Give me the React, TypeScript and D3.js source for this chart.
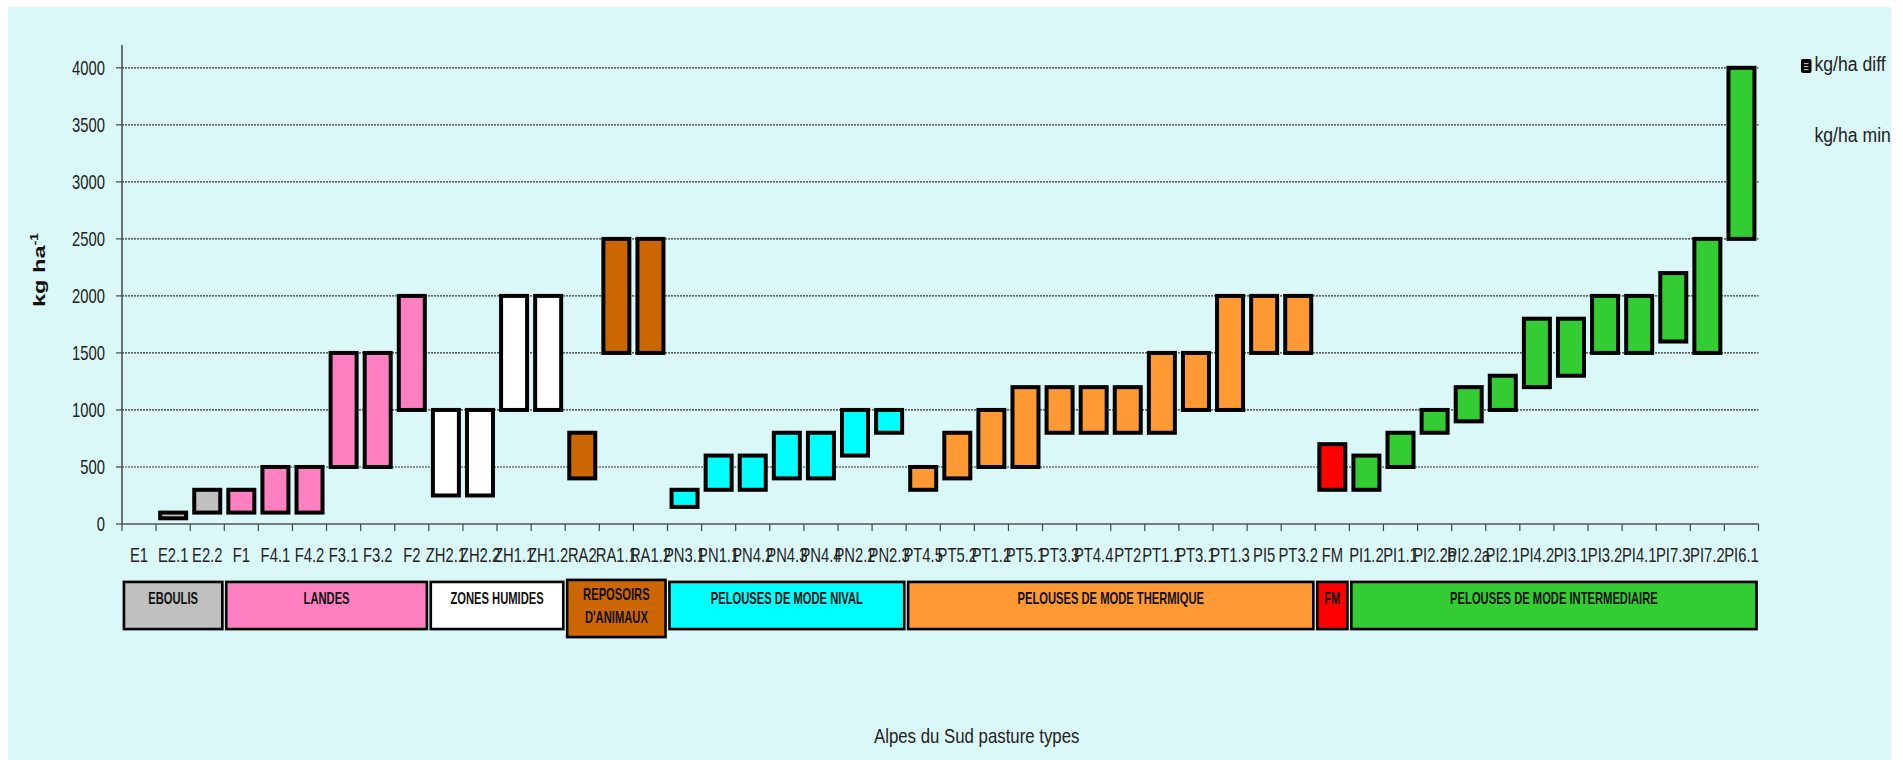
import React from "react";
import * as d3 from "d3";

const categories = [
  "E1", "E2.1", "E2.2", "F1", "F4.1", "F4.2", "F3.1", "F3.2", "F2",
  "ZH2.1", "ZH2.2", "ZH1.1", "ZH1.2", "RA2", "RA1.1", "RA1.2",
  "PN3.1", "PN1.1", "PN4.2", "PN4.3", "PN4.4", "PN2.2", "PN2.3",
  "PT4.5", "PT5.2", "PT1.2", "PT5.1", "PT3.3", "PT4.4", "PT2", "PT1.1", "PT3.1", "PT1.3", "PI5", "PT3.2",
  "FM",
  "PI1.2", "PI1.1", "PI2.2b", "PI2.2a", "PI2.1", "PI4.2", "PI3.1", "PI3.2", "PI4.1", "PI7.3", "PI7.2", "PI6.1",
];

// series "kg/ha min" (invisible base)
const minValues = [
  0, 50, 100, 100, 100, 100, 500, 500, 1000,
  250, 250, 1000, 1000, 400, 1500, 1500,
  150, 300, 300, 400, 400, 600, 800,
  300, 400, 500, 500, 800, 800, 800, 800, 1000, 1000, 1500, 1500,
  300,
  300, 500, 800, 900, 1000, 1200, 1300, 1500, 1500, 1600, 1500, 2500,
];

// series "kg/ha diff" (visible floating bar)
const diffValues = [
  0, 50, 200, 200, 400, 400, 1000, 1000, 1000,
  750, 750, 1000, 1000, 400, 1000, 1000,
  150, 300, 300, 400, 400, 400, 200,
  200, 400, 500, 700, 400, 400, 400, 700, 500, 1000, 500, 500,
  400,
  300, 300, 200, 300, 300, 600, 500, 500, 500, 600, 1000, 1500,
];

const groupLabels = [
  ["EBOULIS"],
  ["LANDES"],
  ["ZONES HUMIDES"],
  ["REPOSOIRS", "D'ANIMAUX"],
  ["PELOUSES DE MODE NIVAL"],
  ["PELOUSES DE MODE THERMIQUE"],
  ["FM"],
  ["PELOUSES DE MODE INTERMEDIAIRE"],
];
const groupFirst = [0, 3, 9, 13, 16, 23, 35, 36];
const groupLast = [2, 8, 12, 15, 22, 34, 35, 47];
const groupColors = ["#c0c0c0", "#ff80c0", "#ffffff", "#cc6600", "#00ffff", "#ff9933", "#ff0000", "#33cc33"];

const yTicks = [0, 500, 1000, 1500, 2000, 2500, 3000, 3500, 4000];
const legendLabels = ["kg/ha diff", "kg/ha min"];
const yTitle = "kg ha";
const yTitleSup = "-1";
const xTitle = "Alpes du Sud pasture types";

const FONT = "'Liberation Sans', Arial, sans-serif";

function colorOf(i: number): string {
  for (let g = 0; g < groupFirst.length; g++) {
    if (i >= groupFirst[g] && i <= groupLast[g]) return groupColors[g];
  }
  return "#cccccc";
}

export default function App() {
  const W = 1903;
  const H = 760;
  const x = d3.scaleBand<string>().domain(categories).range([122, 1758.5]).padding(0);
  const y = d3.scaleLinear().domain([0, 4200]).range([524, 45]);
  const bw = x.bandwidth();
  const sw = 4;
  const barW = bw * 0.88 - sw;

  return (
    <svg
      width={W}
      height={H}
      style={{ position: "absolute", left: 0, top: 0, display: "block" }}
      fontFamily={FONT}
    >
      <rect x={0} y={0} width={W} height={H} fill="#ffffff" />
      <rect x={8} y={7} width={1883} height={H - 7} fill="#dbf8f8" />

      {/* gridlines */}
      {yTicks.filter((t) => t > 0).map((t) => (
        <line
          key={"g" + t}
          x1={122}
          x2={1758.5}
          y1={y(t)}
          y2={y(t)}
          stroke="#333"
          strokeWidth={1.2}
          strokeDasharray="2 1"
        />
      ))}

      {/* y ticks and labels */}
      {yTicks.map((t) => (
        <g key={"yt" + t}>
          <line x1={116} x2={122} y1={y(t)} y2={y(t)} stroke="#444" strokeWidth={1.2} />
          <text
            transform={`translate(105,${y(t) + 7}) scale(0.74,1)`}
            textAnchor="end"
            fontSize={20}
            fill="#222"
          >
            {t}
          </text>
        </g>
      ))}

      {/* y axis */}
      <line x1={122} x2={122} y1={45} y2={524} stroke="#444" strokeWidth={1.5} />

      {/* bars */}
      {categories.map((c, i) =>
        diffValues[i] > 0 ? (
          <rect
            key={"b" + c}
            x={(x(c) as number) + (bw - barW) / 2}
            y={y(minValues[i] + diffValues[i])}
            width={barW}
            height={y(minValues[i]) - y(minValues[i] + diffValues[i])}
            fill={colorOf(i)}
            stroke="#000"
            strokeWidth={sw}
          />
        ) : null
      )}

      {/* x axis */}
      <line x1={122} x2={1758.5} y1={524} y2={524} stroke="#555" strokeWidth={1.5} />
      {categories.map((c) => (
        <line
          key={"xt" + c}
          x1={x(c) as number}
          x2={x(c) as number}
          y1={524}
          y2={531}
          stroke="#444"
          strokeWidth={1.2}
        />
      ))}
      <line x1={1758.5} x2={1758.5} y1={524} y2={531} stroke="#444" strokeWidth={1.2} />
      {categories.map((c) => (
        <text
          key={"xl" + c}
          transform={`translate(${(x(c) as number) + bw / 2},562) scale(0.74,1)`}
          textAnchor="middle"
          fontSize={20}
          fill="#222"
        >
          {c}
        </text>
      ))}

      {/* group boxes */}
      {groupLabels.map((lines, g) => {
        const x0 = (x(categories[groupFirst[g]]) as number) + 2;
        const x1 = (x(categories[groupLast[g]]) as number) + bw - 2;
        const top = lines.length > 1 ? 580 : 582;
        const bottom = lines.length > 1 ? 637 : 629;
        return (
          <g key={"grp" + g}>
            <rect
              x={x0 - 1}
              y={top - 1}
              width={x1 - x0 + 2}
              height={bottom - top + 2}
              fill="none"
              stroke="#8a9a9a"
              strokeWidth={1}
            />
            <rect
              x={x0}
              y={top}
              width={x1 - x0}
              height={bottom - top}
              fill={groupColors[g]}
              stroke="#000"
              strokeWidth={2.5}
            />
            {lines.map((ln, k) => (
              <text
                key={k}
                transform={`translate(${(x0 + x1) / 2},${(lines.length > 1 ? 599.5 : 603.5) + k * 23.5}) scale(0.7,1)`}
                textAnchor="middle"
                fontSize={16}
                fontWeight="bold"
                fill="#111"
              >
                {ln}
              </text>
            ))}
          </g>
        );
      })}

      {/* y title */}
      <text
        transform="translate(44.5,270) rotate(-90) scale(1.39,1)"
        textAnchor="middle"
        fontSize={17}
        fontWeight="bold"
        fill="#111"
      >
        {yTitle}
        <tspan fontSize={10} dy={-7}>{yTitleSup}</tspan>
      </text>

      {/* x title */}
      <text
        transform="translate(976.7,743) scale(0.82,1)"
        textAnchor="middle"
        fontSize={20.5}
        fill="#222"
      >
        {xTitle}
      </text>

      {/* legend */}
      <rect x={1801} y={59} width={10.5} height={14} rx={2} fill="#000" />
      <rect x={1804} y={63} width={4.5} height={1.2} fill="#bbb" />
      <rect x={1804} y={66} width={4.5} height={1.2} fill="#bbb" />
      <rect x={1804} y={69} width={4.5} height={1.2} fill="#bbb" />
      <text transform="translate(1814.5,71) scale(0.84,1)" fontSize={21} fill="#222">
        {legendLabels[0]}
      </text>
      <text transform="translate(1814.5,142) scale(0.84,1)" fontSize={21} fill="#222">
        {legendLabels[1]}
      </text>
    </svg>
  );
}
